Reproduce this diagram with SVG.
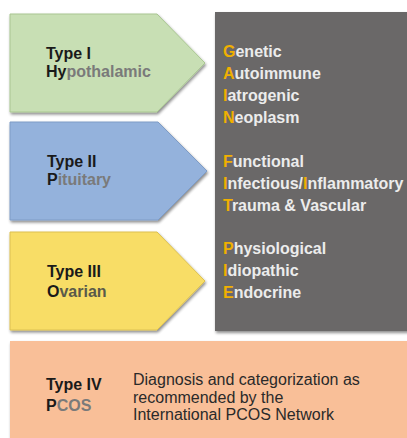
<svg xmlns="http://www.w3.org/2000/svg" width="407" height="438" viewBox="0 0 407 438">
<defs>
<filter id="sh" x="-10%" y="-10%" width="130%" height="130%">
<feGaussianBlur in="SourceAlpha" stdDeviation="1.5"/>
<feOffset dx="1" dy="2" result="b"/>
<feComponentTransfer><feFuncA type="linear" slope="0.45"/></feComponentTransfer>
<feMerge><feMergeNode/><feMergeNode in="SourceGraphic"/></feMerge>
</filter>
</defs>
<style>
.lbl{font-family:"Liberation Sans",Arial,sans-serif;font-size:16px;font-weight:bold;fill:#1a1a1a}
.g{fill:#7a7a7a}
.lst{font-family:"Liberation Sans",Arial,sans-serif;font-size:16px;font-weight:bold;fill:#ececec}
.hl{fill:#f0b000}
.desc{font-family:"Liberation Sans",Arial,sans-serif;font-size:16px;fill:#2a2a2a}
</style>
<rect width="407" height="438" fill="#ffffff"/>
<g id="causes">
<rect x="215" y="12" width="194" height="319" fill="#6b6767" filter="url(#sh)"/>
<text class="lst">
<tspan x="223" y="57"><tspan class="hl">G</tspan>enetic</tspan>
<tspan x="223" y="79"><tspan class="hl">A</tspan>utoimmune</tspan>
<tspan x="223" y="101"><tspan class="hl">I</tspan>atrogenic</tspan>
<tspan x="223" y="123"><tspan class="hl">N</tspan>eoplasm</tspan>
<tspan x="223" y="167"><tspan class="hl">F</tspan>unctional</tspan>
<tspan x="223" y="189"><tspan class="hl">I</tspan>nfectious/<tspan class="hl">I</tspan>nflammatory</tspan>
<tspan x="223" y="211"><tspan class="hl">T</tspan>rauma &amp; Vascular</tspan>
<tspan x="223" y="254"><tspan class="hl">P</tspan>hysiological</tspan>
<tspan x="223" y="276"><tspan class="hl">I</tspan>diopathic</tspan>
<tspan x="223" y="298"><tspan class="hl">E</tspan>ndocrine</tspan>
</text>
</g>
<g id="type1">
<polygon points="10,14 157,14 205,63 157,112 10,112" fill="#c8dfb4" stroke="#a9c691" stroke-width="1" filter="url(#sh)"/>
<text class="lbl" x="46" y="59">Type I</text>
<text class="lbl" x="46" y="77">Hy<tspan class="g">pothalamic</tspan></text>
</g>
<g id="type2">
<polygon points="10,122 158,122 207,171 158,220 10,220" fill="#94b2dc" stroke="#7e9cc6" stroke-width="1" filter="url(#sh)"/>
<text class="lbl" x="47" y="167">Type II</text>
<text class="lbl" x="47" y="185">P<tspan class="g">ituitary</tspan></text>
</g>
<g id="type3">
<polygon points="10,232 157,232 205,281 157,330 10,330" fill="#f8dd66" stroke="#dcc050" stroke-width="1" filter="url(#sh)"/>
<text class="lbl" x="47" y="277">Type III</text>
<text class="lbl" x="47" y="297">O<tspan fill="#5a5a4a">varian</tspan></text>
</g>
<g id="type4">
<rect x="10" y="341" width="400" height="100" fill="#f9bf98" filter="url(#sh)"/>
<text class="lbl" x="46" y="390">Type IV</text>
<text class="lbl" x="46" y="411">P<tspan class="g">COS</tspan></text>
<text class="desc">
<tspan x="133" y="385">Diagnosis and categorization as</tspan>
<tspan x="133" y="402.5">recommended by the</tspan>
<tspan x="133" y="420">International PCOS Network</tspan>
</text>
</g>
<g id="connectors"/>
</svg>
